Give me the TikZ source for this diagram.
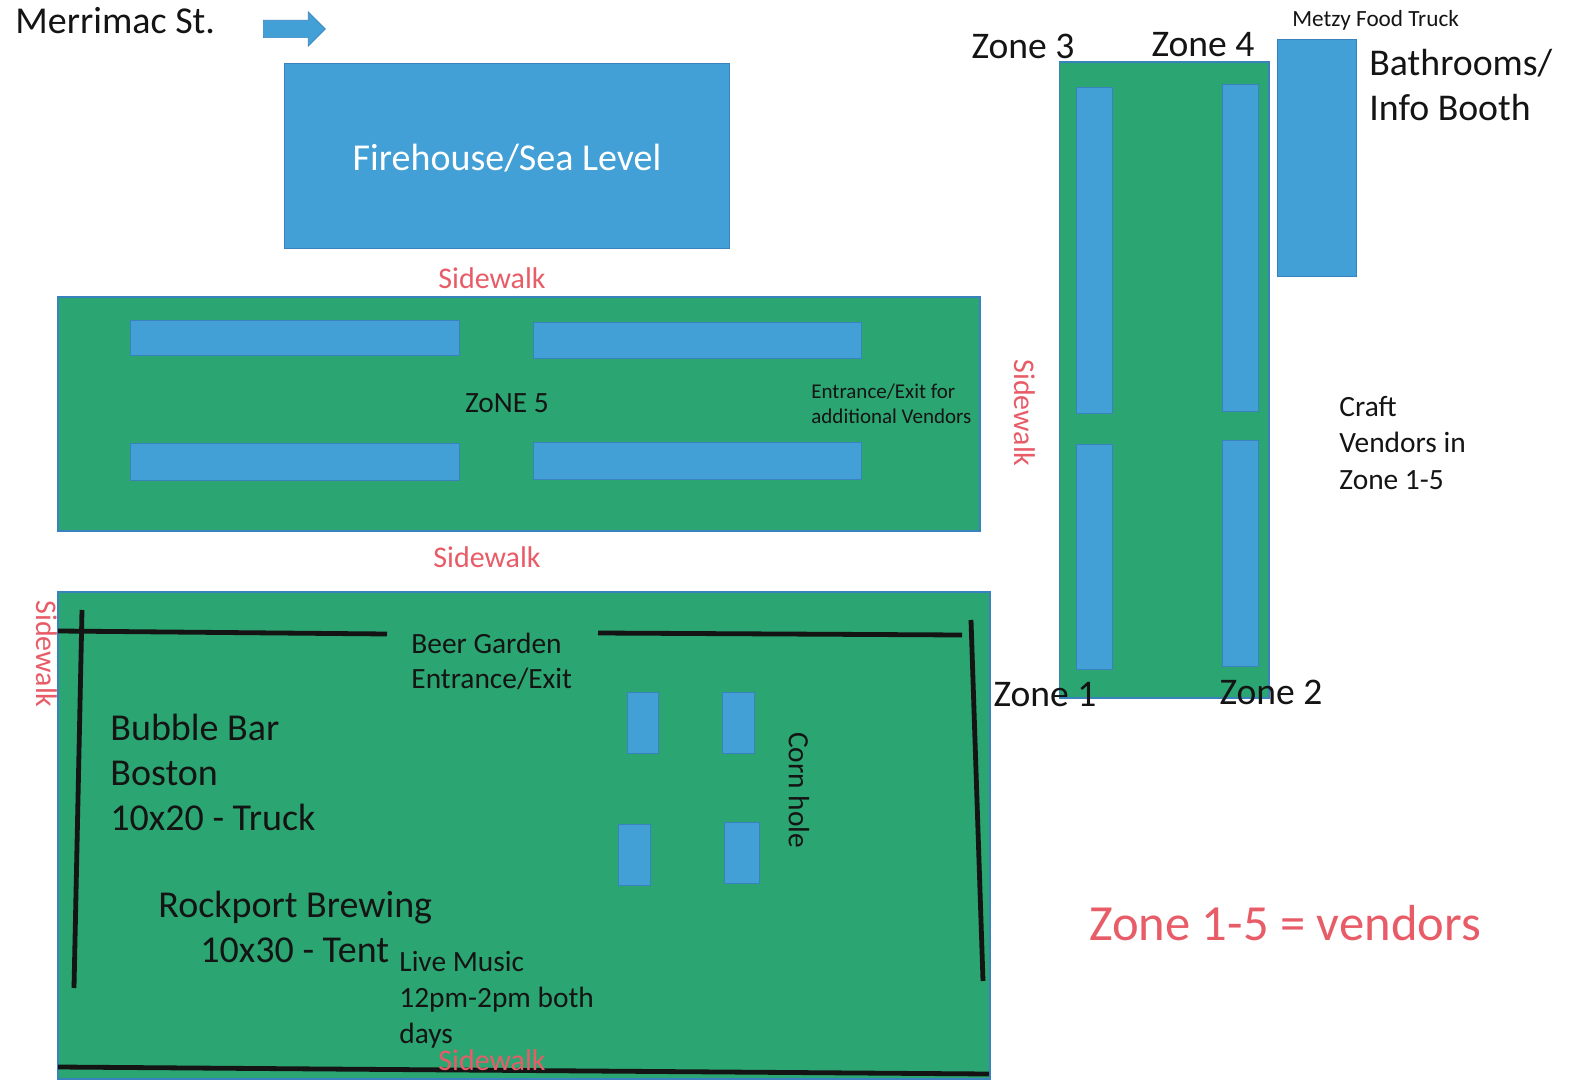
\documentclass[tikz,border=0pt]{standalone}
\usepackage{fontspec}
\setmainfont{Carlito}
\usetikzlibrary{shapes.arrows}

\definecolor{lotgreen}{RGB}{43,165,113}
\definecolor{boothblue}{RGB}{66,160,214}
\definecolor{edgeblue}{RGB}{58,130,190}
\definecolor{walkred}{RGB}{232,92,104}
\definecolor{inkblack}{RGB}{20,20,20}

\tikzset{
  lot/.style={fill=lotgreen, draw=edgeblue, line width=0.6pt},
  booth/.style={fill=boothblue, draw=edgeblue, line width=0.4pt},
  wall/.style={draw=inkblack, line width=2.4pt},
  tag/.style={anchor=west, inner sep=0pt, text=inkblack, align=left},
  walk/.style={inner sep=0pt, text=walkred, font=\fontsize{15}{17}\selectfont},
}

\newcommand{\fs}[2]{\fontsize{#1}{#2}\selectfont}

\begin{document}
\begin{tikzpicture}[x=0.5pt,y=-0.5pt]

\useasboundingbox (0,0) rectangle (1570,1081);
\fill[white] (0,0) rectangle (1570,1081);

% ---------------- top left ----------------
\node[tag, font=\fs{19}{22}] (street) at (15,21) {Merrimac St.};
\node[single arrow, fill=boothblue, draw=edgeblue, line width=0.3pt,
  inner xsep=0pt, inner ysep=4.2pt, minimum height=31pt,
  single arrow head extend=4.2pt, single arrow tip angle=90] (dirarrow) at (290,29) {};

\draw[booth] (284,63) rectangle (729,248);
\node[inner sep=0pt, text=white, font=\fs{19}{22}] (firehouse) at (507,158) {Firehouse/Sea Level};

% =========== ZONE 5 ===========
\node[walk] (walktop) at (492,278) {Sidewalk};
\draw[lot] (58,297) rectangle (980,531);
\draw[booth] (130,320) rectangle (459,355);
\draw[booth] (533,322) rectangle (861,358);
\draw[booth] (130,443) rectangle (459,480);
\draw[booth] (533,442) rectangle (861,479);
\node[inner sep=0pt, text=inkblack, font=\fs{14.7}{17}] (zonefive) at (507,403) {ZoNE 5};
\node[tag, font=\fs{10.5}{12.5}] (gate) at (811,404) {Entrance/Exit for\\additional Vendors};
\node[walk] (walkmid) at (487,557) {Sidewalk};

% =========== ZONES 1-4 ===========
\draw[lot] (1059.5,62) rectangle (1269,698);
\draw[booth] (1076,87) rectangle (1112,413);
\draw[booth] (1222,84) rectangle (1258,411);
\draw[booth] (1076,444) rectangle (1112,669);
\draw[booth] (1222,440) rectangle (1258,666);
\draw[booth] (1277,39) rectangle (1356,276);

\node[inner sep=0pt, text=inkblack, font=\fs{18.8}{22}] (zonethree) at (1023,46) {Zone 3};
\node[inner sep=0pt, text=inkblack, font=\fs{18.8}{22}] (zonefour) at (1203,45) {Zone 4};
\node[inner sep=0pt, text=inkblack, font=\fs{18.8}{22}] (zoneone) at (1045,695) {Zone 1};
\node[inner sep=0pt, text=inkblack, font=\fs{18.8}{22}] (zonetwo) at (1271,692) {Zone 2};

\node[tag, font=\fs{11.6}{14}] (foodtruck) at (1292,20) {Metzy Food Truck};
\node[tag, font=\fs{18.9}{22.5}] (bathrooms) at (1369,85) {Bathrooms/\\Info Booth};
\node[tag, font=\fs{14.7}{18.4}] (craft) at (1339,443) {Craft\\Vendors in\\Zone 1-5};
\node[walk, rotate=-90] (walkside) at (1025,413) {Sidewalk};

% =========== BEER GARDEN ===========
\draw[lot] (58,592) rectangle (990,1079);
\draw[wall] (58,631) -- (387,634);
\draw[wall] (598,633) -- (962,635);
\draw[wall] (82,610) -- (74,988);
\draw[wall] (971,620) -- (983,981);
\draw[wall] (58,1067) -- (989,1074);

\draw[booth] (627,692) rectangle (658,753);
\draw[booth] (722,692) rectangle (754,753);
\draw[booth] (618,824) rectangle (650,885);
\draw[booth] (724,822) rectangle (759,883);

\node[walk, rotate=-90] (walkleft) at (47,654) {Sidewalk};
\node[tag, font=\fs{14.7}{17.5}] (beergate) at (411,661) {Beer Garden\\Entrance/Exit};
\node[tag, font=\fs{19}{22.5}] (bubble) at (110,772) {Bubble Bar\\Boston\\10x20 - Truck};
\node[tag, font=\fs{19}{22.5}] (rockport) at (158,908) {Rockport Brewing};
\node[tag, font=\fs{19}{22.5}] (tent) at (200,950) {10x30 - Tent};
\node[tag, font=\fs{14.7}{18}] (music) at (399,1000) {Live Music\\12pm-2pm both\\days};
\node[inner sep=0pt, rotate=-90, text=inkblack, font=\fs{14.7}{17}] (cornhole) at (799,790) {Corn hole};
\node[walk] (walkbottom) at (492,1060) {Sidewalk};

\node[inner sep=0pt, text=walkred, font=\fs{25.3}{29}] (legend) at (1285,923) {Zone 1-5 = vendors};

\end{tikzpicture}
\end{document}
